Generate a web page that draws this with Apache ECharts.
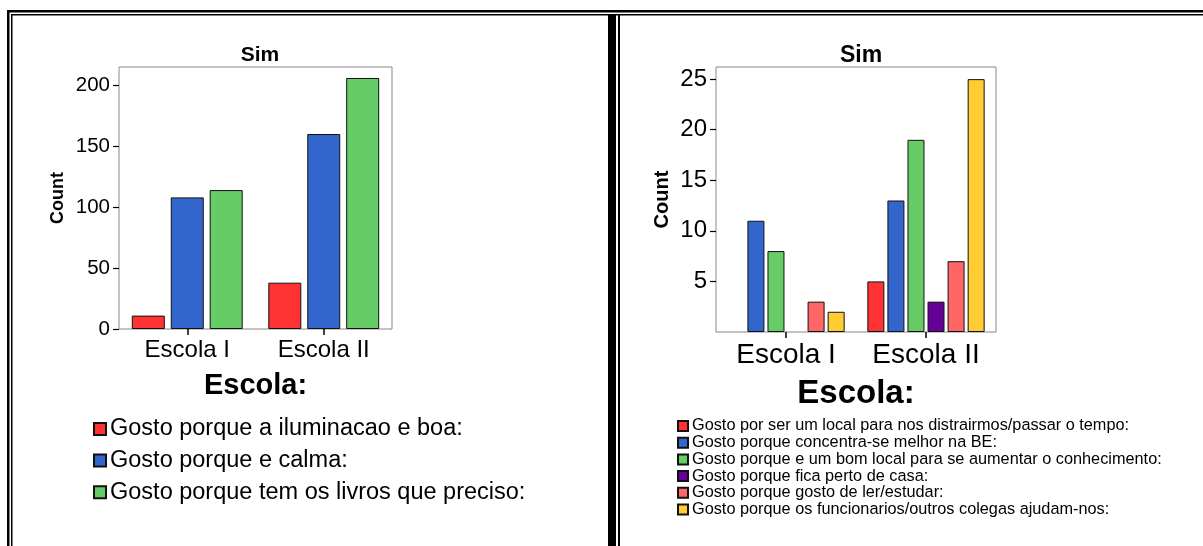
<!DOCTYPE html>
<html>
<head>
<meta charset="utf-8">
<title>Sim - Escola</title>
<script src="https://cdn.jsdelivr.net/npm/echarts@6/dist/echarts.min.js"></script>
<style>
  html, body { margin: 0; padding: 0; background: #fff; }
  #chart { width: 1203px; height: 546px; }
</style>
</head>
<body>
<div id="chart"></div>
<script>
// categorias (eixo x) dos dois graficos
const escolas = ['Escola I', 'Escola II']

// grafico da esquerda
const leftNames = [
  'Gosto porque a iluminacao e boa:',
  'Gosto porque e calma:',
  'Gosto porque tem os livros que preciso:'
]
const iluminacao = [11, 38]
const calma = [108, 160]
const livros = [114, 206]
const leftTicks = [0, 50, 100, 150, 200]

// grafico da direita
const rightNames = [
  'Gosto por ser um local para nos distrairmos/passar o tempo:',
  'Gosto porque concentra-se melhor na BE:',
  'Gosto porque e um bom local para se aumentar o conhecimento:',
  'Gosto porque fica perto de casa:',
  'Gosto porque gosto de ler/estudar:',
  'Gosto porque os funcionarios/outros colegas ajudam-nos:'
]
const distrair = [null, 5]
const concentra = [11, 13]
const conhecimento = [8, 19]
const perto = [null, 3]
const lerEstudar = [3, 7]
const funcionarios = [2, 25]
const rightTicks = [5, 10, 15, 20, 25]

const leftColors = ['#FF3333', '#3366CC', '#66CC66']
const rightColors = ['#FF3333', '#3366CC', '#66CC66', '#660099', '#FF6666', '#FFCC33']

const font = 'Arial, "Liberation Sans", sans-serif'

function barSeries(name, data, color, axis, width) {
  return {
    name: name,
    type: 'bar',
    xAxisIndex: axis,
    yAxisIndex: axis,
    data: data,
    barWidth: width,
    barGap: '18%',
    itemStyle: { color: color, borderColor: '#111', borderWidth: 1 },
    emphasis: { disabled: true }
  }
}

function xAxisCfg(grid, labelSize, nameSize, nameGap) {
  return {
    type: 'category',
    gridIndex: grid,
    data: escolas,
    name: 'Escola:',
    nameLocation: 'middle',
    nameGap: nameGap,
    nameTextStyle: { fontFamily: font, fontSize: nameSize, fontWeight: 'bold', color: '#000' },
    axisLine: { show: false },
    axisTick: { show: true, alignWithLabel: true, length: 6, lineStyle: { color: '#000', width: 1.5 } },
    axisLabel: { fontFamily: font, fontSize: labelSize, color: '#000', margin: 9 },
    splitLine: { show: false }
  }
}

function yAxisCfg(grid, max, ticks, labelSize, nameSize, nameGap) {
  return {
    type: 'value',
    gridIndex: grid,
    min: 0,
    max: max,
    name: 'Count',
    nameLocation: 'middle',
    nameGap: nameGap,
    nameTextStyle: { fontFamily: font, fontSize: nameSize, fontWeight: 'bold', color: '#000' },
    axisLine: { show: false },
    axisTick: { show: true, length: 6, customValues: ticks, lineStyle: { color: '#000', width: 1.2 } },
    axisLabel: { fontFamily: font, fontSize: labelSize, color: '#000', margin: 9, customValues: ticks },
    splitLine: { show: false }
  }
}

function bar(x, y, w, h) {
  return { type: 'rect', shape: { x: x, y: y, width: w, height: h }, style: { fill: '#000' }, silent: true }
}

const chart = echarts.init(document.getElementById('chart'))
chart.setOption({
  backgroundColor: '#fff',
  animation: false,
  title: [
    { text: 'Sim', left: 255, top: 40, textAlign: 'center', textStyle: { fontFamily: font, fontSize: 21, fontWeight: 'bold', color: '#000' } },
    { text: 'Sim', left: 856, top: 39, textAlign: 'center', textStyle: { fontFamily: font, fontSize: 23, fontWeight: 'bold', color: '#000' } }
  ],
  grid: [
    { left: 119, top: 67, width: 273, height: 262, show: true, borderColor: '#888', borderWidth: 1, backgroundColor: 'transparent' },
    { left: 716, top: 67, width: 280, height: 265, show: true, borderColor: '#888', borderWidth: 1, backgroundColor: 'transparent' }
  ],
  xAxis: [
    xAxisCfg(0, 24, 29, 42),
    xAxisCfg(1, 28, 33, 45)
  ],
  yAxis: [
    yAxisCfg(0, 215, leftTicks, 20.5, 18, 52),
    yAxisCfg(1, 26.2, rightTicks, 24, 20, 44)
  ],
  legend: [
    {
      orient: 'vertical', left: 93, top: 417, padding: 0,
      icon: 'rect', itemWidth: 12, itemHeight: 12, itemGap: 7.6,
      selectedMode: false,
      data: leftNames,
      textStyle: { fontFamily: font, fontSize: 23.5, lineHeight: 24, color: '#000', padding: [0, 0, 0, -1] }
    },
    {
      orient: 'vertical', left: 677, top: 418, padding: 0,
      icon: 'rect', itemWidth: 10, itemHeight: 10, itemGap: 0.7,
      selectedMode: false,
      data: rightNames,
      textStyle: { fontFamily: font, fontSize: 16.3, lineHeight: 16, color: '#000', padding: [0, 0, 0, -1] }
    }
  ],
  graphic: [
    bar(7, 10, 1196, 2.5),
    bar(7, 10, 2.5, 536),
    bar(11, 14, 1192, 1.5),
    bar(11, 14, 1.5, 532),
    bar(608, 14, 8, 532),
    bar(618, 14, 2, 532)
  ],
  series: [
    barSeries(leftNames[0], iluminacao, leftColors[0], 0, 33),
    barSeries(leftNames[1], calma, leftColors[1], 0, 33),
    barSeries(leftNames[2], livros, leftColors[2], 0, 33),
    barSeries(rightNames[0], distrair, rightColors[0], 1, 17),
    barSeries(rightNames[1], concentra, rightColors[1], 1, 17),
    barSeries(rightNames[2], conhecimento, rightColors[2], 1, 17),
    barSeries(rightNames[3], perto, rightColors[3], 1, 17),
    barSeries(rightNames[4], lerEstudar, rightColors[4], 1, 17),
    barSeries(rightNames[5], funcionarios, rightColors[5], 1, 17)
  ]
})
</script>
</body>
</html>
